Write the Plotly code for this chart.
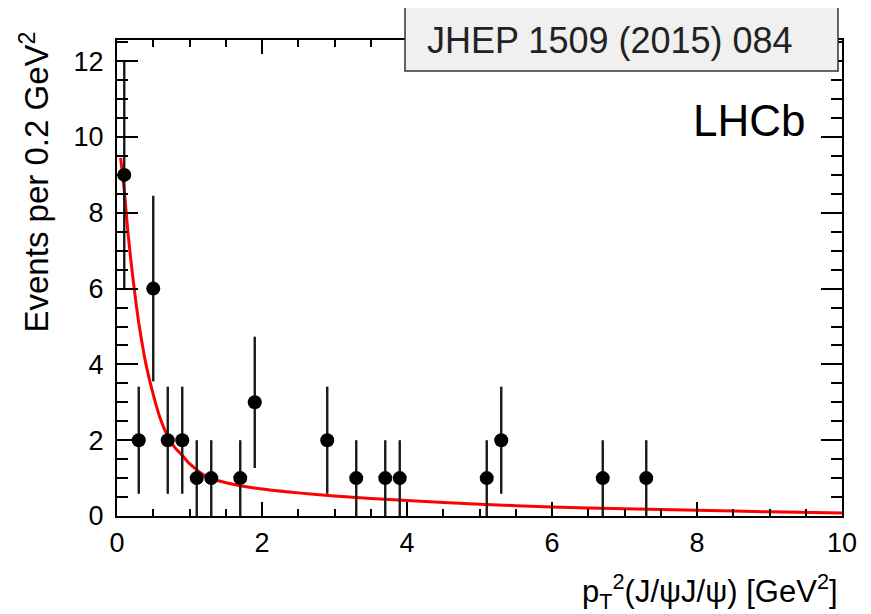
import plotly.graph_objects as go

# Data points (bin centres, counts, symmetric sqrt(N) errors)
x_pts = [0.1, 0.3, 0.5, 0.7, 0.9, 1.1, 1.3, 1.7, 1.9, 2.9, 3.3, 3.7, 3.9, 5.1, 5.3, 6.7, 7.3]
y_pts = [9, 2, 6, 2, 2, 1, 1, 1, 3, 2, 1, 1, 1, 1, 2, 1, 1]
err_pts = [3.0, 1.414, 2.449, 1.414, 1.414, 1, 1, 1, 1.732, 1.414, 1, 1, 1, 1, 1.414, 1, 1]

# Fit curve
x_fit = [0.05, 0.1, 0.15, 0.2, 0.25, 0.3, 0.4, 0.5, 0.6, 0.7, 0.8, 0.9, 1.0, 1.2, 1.4,
         1.7, 2.0, 2.5, 3.0, 3.5, 4.0, 5.0, 6.0, 7.0, 8.0, 9.0, 10.0]
y_fit = [9.45, 8.6, 7.5, 6.6, 5.8, 5.1, 4.0, 3.2, 2.55, 2.1, 1.8, 1.6, 1.38, 1.08, 0.93,
         0.80, 0.71, 0.61, 0.53, 0.46, 0.41, 0.31, 0.24, 0.19, 0.15, 0.11, 0.08]

x_ticks = [0, 2, 4, 6, 8, 10]
y_ticks = [0, 2, 4, 6, 8, 10, 12]

FONT = "Liberation Sans, Arial, sans-serif"

# the page body adds an 8px offset; work in window pixels and subtract it
OFF = 8
W, H = 871 - OFF, 614 - OFF
L, T = 117 - OFF, 40 - OFF
R, B = 871 - 842, 614 - 516
pw, ph = W - L - R, H - T - B


def px(xp):
    return (xp - OFF - L) / pw


def py(yp):
    return (H - B - (yp - OFF)) / ph


fig = go.Figure()
fig.add_trace(go.Scatter(
    x=x_fit, y=y_fit, mode="lines",
    line=dict(color="#ff0000", width=3, shape="spline", smoothing=0.6),
    hoverinfo="skip", showlegend=False))
fig.add_trace(go.Scatter(
    x=x_pts, y=y_pts, mode="markers",
    marker=dict(color="black", size=14),
    error_y=dict(type="data", array=err_pts, visible=True, color="#1a1a1a",
                 thickness=2.4, width=0),
    showlegend=False))

axis_common = dict(
    showline=True, linecolor="black", linewidth=2, mirror="ticks",
    ticks="inside", tickcolor="black", tickwidth=2,
    showgrid=False, zeroline=False, automargin=False,
    tickfont=dict(family=FONT, size=27, color="black"),
)

fig.update_xaxes(range=[0, 10], tickvals=x_ticks, ticklen=14,
                 minor=dict(dtick=0.5, ticklen=7, ticks="inside", tickcolor="black", tickwidth=2),
                 ticklabelstandoff=2, **axis_common)
fig.update_yaxes(range=[0, 12.56], tickvals=y_ticks, ticklen=21,
                 minor=dict(dtick=0.5, ticklen=11, ticks="inside", tickcolor="black", tickwidth=2),
                 ticklabelstandoff=6, **axis_common)

fig.add_shape(type="rect", xref="paper", yref="paper",
              x0=px(405), x1=px(838), y0=py(71), y1=py(6),
              fillcolor="#f0f0f0", line=dict(color="#333333", width=1.5), layer="above")

fig.add_annotation(text="JHEP 1509 (2015) 084", xref="paper", yref="paper",
                   x=px(425), y=py(40), xanchor="left", yanchor="middle",
                   showarrow=False, font=dict(family=FONT, size=36, color="#222222"))
fig.add_annotation(text="LHCb", xref="paper", yref="paper",
                   x=px(808), y=py(121), xanchor="right", yanchor="middle",
                   showarrow=False, font=dict(family=FONT, size=44, color="black"))
fig.add_annotation(text="Events per 0.2 GeV<sup>2</sup>", xref="paper", yref="paper",
                   x=px(34), y=py(30), xanchor="center", yanchor="top", textangle=-90,
                   showarrow=False, font=dict(family=FONT, size=33, color="black"))
fig.add_annotation(text="p<sub>T</sub><sup>2</sup>(J/ψJ/ψ) [GeV<sup>2</sup>]",
                   xref="paper", yref="paper",
                   x=px(840), y=py(591), xanchor="right", yanchor="middle",
                   showarrow=False, font=dict(family=FONT, size=31, color="black"))

fig.update_layout(width=W, height=H, margin=dict(l=L, r=R, t=T, b=B),
                  paper_bgcolor="white", plot_bgcolor="white")

fig.write_html("out.html")
